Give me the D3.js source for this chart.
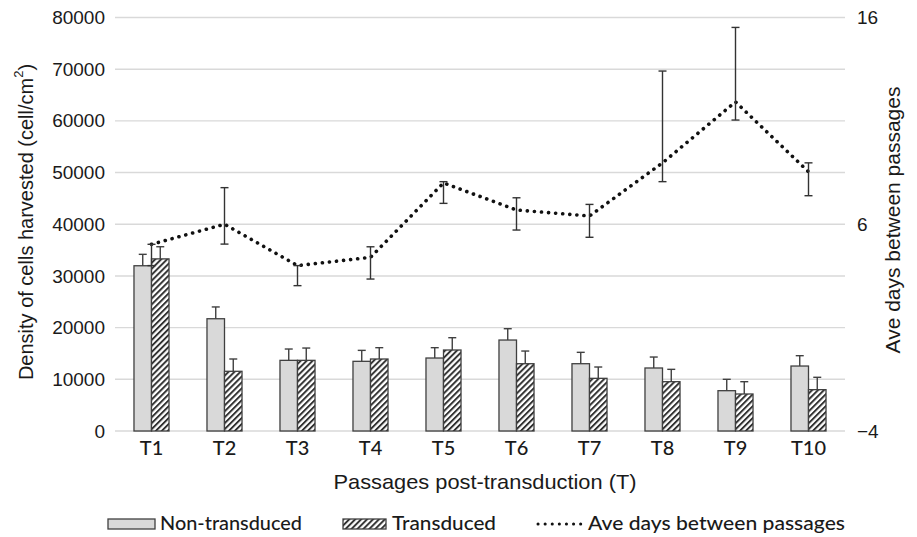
<!DOCTYPE html>
<html>
<head>
<meta charset="utf-8">
<script src="https://cdn.jsdelivr.net/npm/d3@7"></script>
<style>
  body { margin: 0; background: #fff; }
  svg { display: block; }
</style>
</head>
<body>
<svg width="917" height="537"></svg>
<script>
var categories = ["T1", "T2", "T3", "T4", "T5", "T6", "T7", "T8", "T9", "T10"]

// cells harvested (cell/cm2), upper error only
var nonTransduced = [31970, 21720, 13670, 13480, 14120, 17600, 13020, 12190, 7800, 12570]
var nonTransducedErr = [2210, 2280, 2190, 2120, 2000, 2190, 2200, 2120, 2200, 2000]
var transduced = [33300, 11550, 13670, 13930, 15670, 13020, 10190, 9540, 7160, 8000]
var transducedErr = [2350, 2380, 2380, 2190, 2380, 2450, 2190, 2390, 2380, 2390]

// ave days between passages (right axis), asymmetric errors
var aveDays = [5.03, 6.0, 4.0, 4.4, 8.0, 6.69, 6.4, 8.97, 11.92, 8.54]
var daysErrPlus = [0, 1.77, 0, 0.51, 0.06, 0.59, 0.56, 4.44, 3.6, 0.43]
var daysErrMinus = [1.03, 0.96, 0.97, 1.05, 0.99, 0.97, 1.03, 0.91, 0.88, 1.16]

var leftTicks = [0, 10000, 20000, 30000, 40000, 50000, 60000, 70000, 80000]
var rightTicks = [-4, 6, 16]

var svg = d3.select("svg")
var pLeft = 115, pRight = 845, pTop = 17.5, pBottom = 431
var ink = "#404040"

var x = d3.scaleBand().domain(categories).range([pLeft, pRight])
  .paddingInner(0.52).paddingOuter(0.26)
var sub = d3.scaleBand().domain(["non", "trans"]).range([0, x.bandwidth()])
var yL = d3.scaleLinear().domain([0, 80000]).range([pBottom, pTop])
var yR = d3.scaleLinear().domain([-4, 16]).range([pBottom, pTop])

// hatch for transduced bars
var defs = svg.append("defs")
var pat = defs.append("pattern").attr("id", "hatch")
  .attr("patternUnits", "userSpaceOnUse")
  .attr("width", 4.2).attr("height", 4.2)
  .attr("patternTransform", "rotate(45)")
pat.append("rect").attr("width", 4.2).attr("height", 4.2).attr("fill", "#fff")
pat.append("line").attr("x1", 1).attr("y1", 0).attr("x2", 1).attr("y2", 4.2)
  .attr("stroke", "#2a2a2a").attr("stroke-width", 1.9)

// gridlines
svg.append("g").selectAll("line").data(leftTicks).enter().append("line")
  .attr("x1", pLeft).attr("x2", pRight)
  .attr("y1", d => yL(d)).attr("y2", d => yL(d))
  .attr("stroke", "#d9d9d9").attr("stroke-width", 1.4)

// axes
var axL = svg.append("g").attr("transform", "translate(" + pLeft + ",0)")
  .call(d3.axisLeft(yL).tickValues(leftTicks).tickSize(0).tickPadding(10).tickFormat(d3.format("d")))
var axR = svg.append("g").attr("transform", "translate(" + pRight + ",0)")
  .call(d3.axisRight(yR).tickValues(rightTicks).tickSize(0).tickPadding(12))
var axB = svg.append("g").attr("transform", "translate(0," + pBottom + ")")
  .call(d3.axisBottom(x).tickSize(0).tickPadding(10))
;[axL, axR, axB].forEach(function(g) { g.select(".domain").remove() })
axL.selectAll("text").style("font", "19px 'Liberation Sans', Arial, sans-serif").attr("fill", "#1a1a1a")
axR.selectAll("text").style("font", "19px 'Liberation Sans', Arial, sans-serif").attr("fill", "#1a1a1a")
axB.selectAll("text").style("font", "500 20px Lato, sans-serif").attr("fill", "#1a1a1a")

// bars
var groups = svg.append("g").selectAll("g").data(categories).enter().append("g")
  .attr("transform", d => "translate(" + x(d) + ",0)")

groups.append("rect")
  .attr("x", sub("non")).attr("width", sub.bandwidth())
  .attr("y", (d, i) => yL(nonTransduced[i]))
  .attr("height", (d, i) => pBottom - yL(nonTransduced[i]))
  .attr("fill", "#d9d9d9").attr("stroke", ink).attr("stroke-width", 1.3)
groups.append("rect")
  .attr("x", sub("trans")).attr("width", sub.bandwidth())
  .attr("y", (d, i) => yL(transduced[i]))
  .attr("height", (d, i) => pBottom - yL(transduced[i]))
  .attr("fill", "url(#hatch)").attr("stroke", ink).attr("stroke-width", 1.3)

// error bars on bars (plus only)
function errBar(g, cx, y0, y1) {
  g.append("line").attr("x1", cx).attr("x2", cx).attr("y1", y0).attr("y2", y1)
  g.append("line").attr("x1", cx - 4).attr("x2", cx + 4).attr("y1", y1).attr("y2", y1)
}
var eb = svg.append("g").attr("stroke", ink).attr("stroke-width", 1.4)
categories.forEach(function(c, i) {
  var cn = x(c) + sub("non") + sub.bandwidth() / 2
  var ct = x(c) + sub("trans") + sub.bandwidth() / 2
  errBar(eb, cn, yL(nonTransduced[i]), yL(nonTransduced[i] + nonTransducedErr[i]))
  errBar(eb, ct, yL(transduced[i]), yL(transduced[i] + transducedErr[i]))
})

// dotted line on right axis
var cx = d => x(d) + x.bandwidth() / 2
var lineMaker = d3.line().x(d => cx(d)).y((d, i) => yR(aveDays[i]))
svg.append("path")
  .attr("d", lineMaker(categories))
  .attr("fill", "none").attr("stroke", "#111").attr("stroke-width", 3.6)
  .attr("stroke-linecap", "round").attr("stroke-dasharray", "0.1 7")

var le = svg.append("g").attr("stroke", "#333").attr("stroke-width", 1.4)
categories.forEach(function(c, i) {
  var hi = yR(aveDays[i] + daysErrPlus[i]), lo = yR(aveDays[i] - daysErrMinus[i])
  le.append("line").attr("x1", cx(c)).attr("x2", cx(c)).attr("y1", hi).attr("y2", lo)
  le.append("line").attr("x1", cx(c) - 4).attr("x2", cx(c) + 4).attr("y1", hi).attr("y2", hi)
  le.append("line").attr("x1", cx(c) - 4).attr("x2", cx(c) + 4).attr("y1", lo).attr("y2", lo)
})

// axis titles
var yTitle = svg.append("text")
  .attr("transform", "translate(26,222) rotate(-90)")
  .attr("text-anchor", "middle").attr("dominant-baseline", "central")
  .style("font", "20px 'Liberation Sans', Arial, sans-serif").attr("fill", "#1a1a1a")
yTitle.append("tspan").text("Density of cells harvested  (cell/cm")
yTitle.append("tspan").attr("baseline-shift", "super").style("font-size", "13px").text("2")
yTitle.append("tspan").text(")")

svg.append("text")
  .attr("transform", "translate(892,220) rotate(-90)")
  .attr("text-anchor", "middle").attr("dominant-baseline", "central")
  .style("font", "21px 'Liberation Sans', Arial, sans-serif").attr("fill", "#1a1a1a")
  .text("Ave days between passages")

svg.append("text")
  .attr("x", 485).attr("y", 489).attr("text-anchor", "middle")
  .attr("textLength", 303).attr("lengthAdjust", "spacingAndGlyphs")
  .style("font", "21px 'Liberation Sans', Arial, sans-serif").attr("fill", "#1a1a1a")
  .text("Passages post-transduction  (T)")

// legend
var lg = svg.append("g")
lg.append("rect").attr("x", 108).attr("y", 519).attr("width", 47).attr("height", 10)
  .attr("fill", "#d9d9d9").attr("stroke", ink).attr("stroke-width", 1.3)
lg.append("text").attr("x", 160).attr("y", 530).attr("textLength", 142).text("Non-transduced")
lg.append("rect").attr("x", 343).attr("y", 519).attr("width", 43).attr("height", 10)
  .attr("fill", "url(#hatch)").attr("stroke", ink).attr("stroke-width", 1.3)
lg.append("text").attr("x", 392).attr("y", 530).attr("textLength", 104).text("Transduced")
lg.append("line").attr("x1", 538).attr("x2", 582).attr("y1", 524).attr("y2", 524)
  .attr("stroke", "#111").attr("stroke-width", 3).attr("stroke-linecap", "round")
  .attr("stroke-dasharray", "0.1 7")
lg.append("text").attr("x", 588).attr("y", 530).attr("textLength", 257).text("Ave days between passages")
lg.selectAll("text").attr("lengthAdjust", "spacingAndGlyphs")
  .style("font", "500 20px Lato, sans-serif").attr("fill", "#1a1a1a")
</script>
</body>
</html>
